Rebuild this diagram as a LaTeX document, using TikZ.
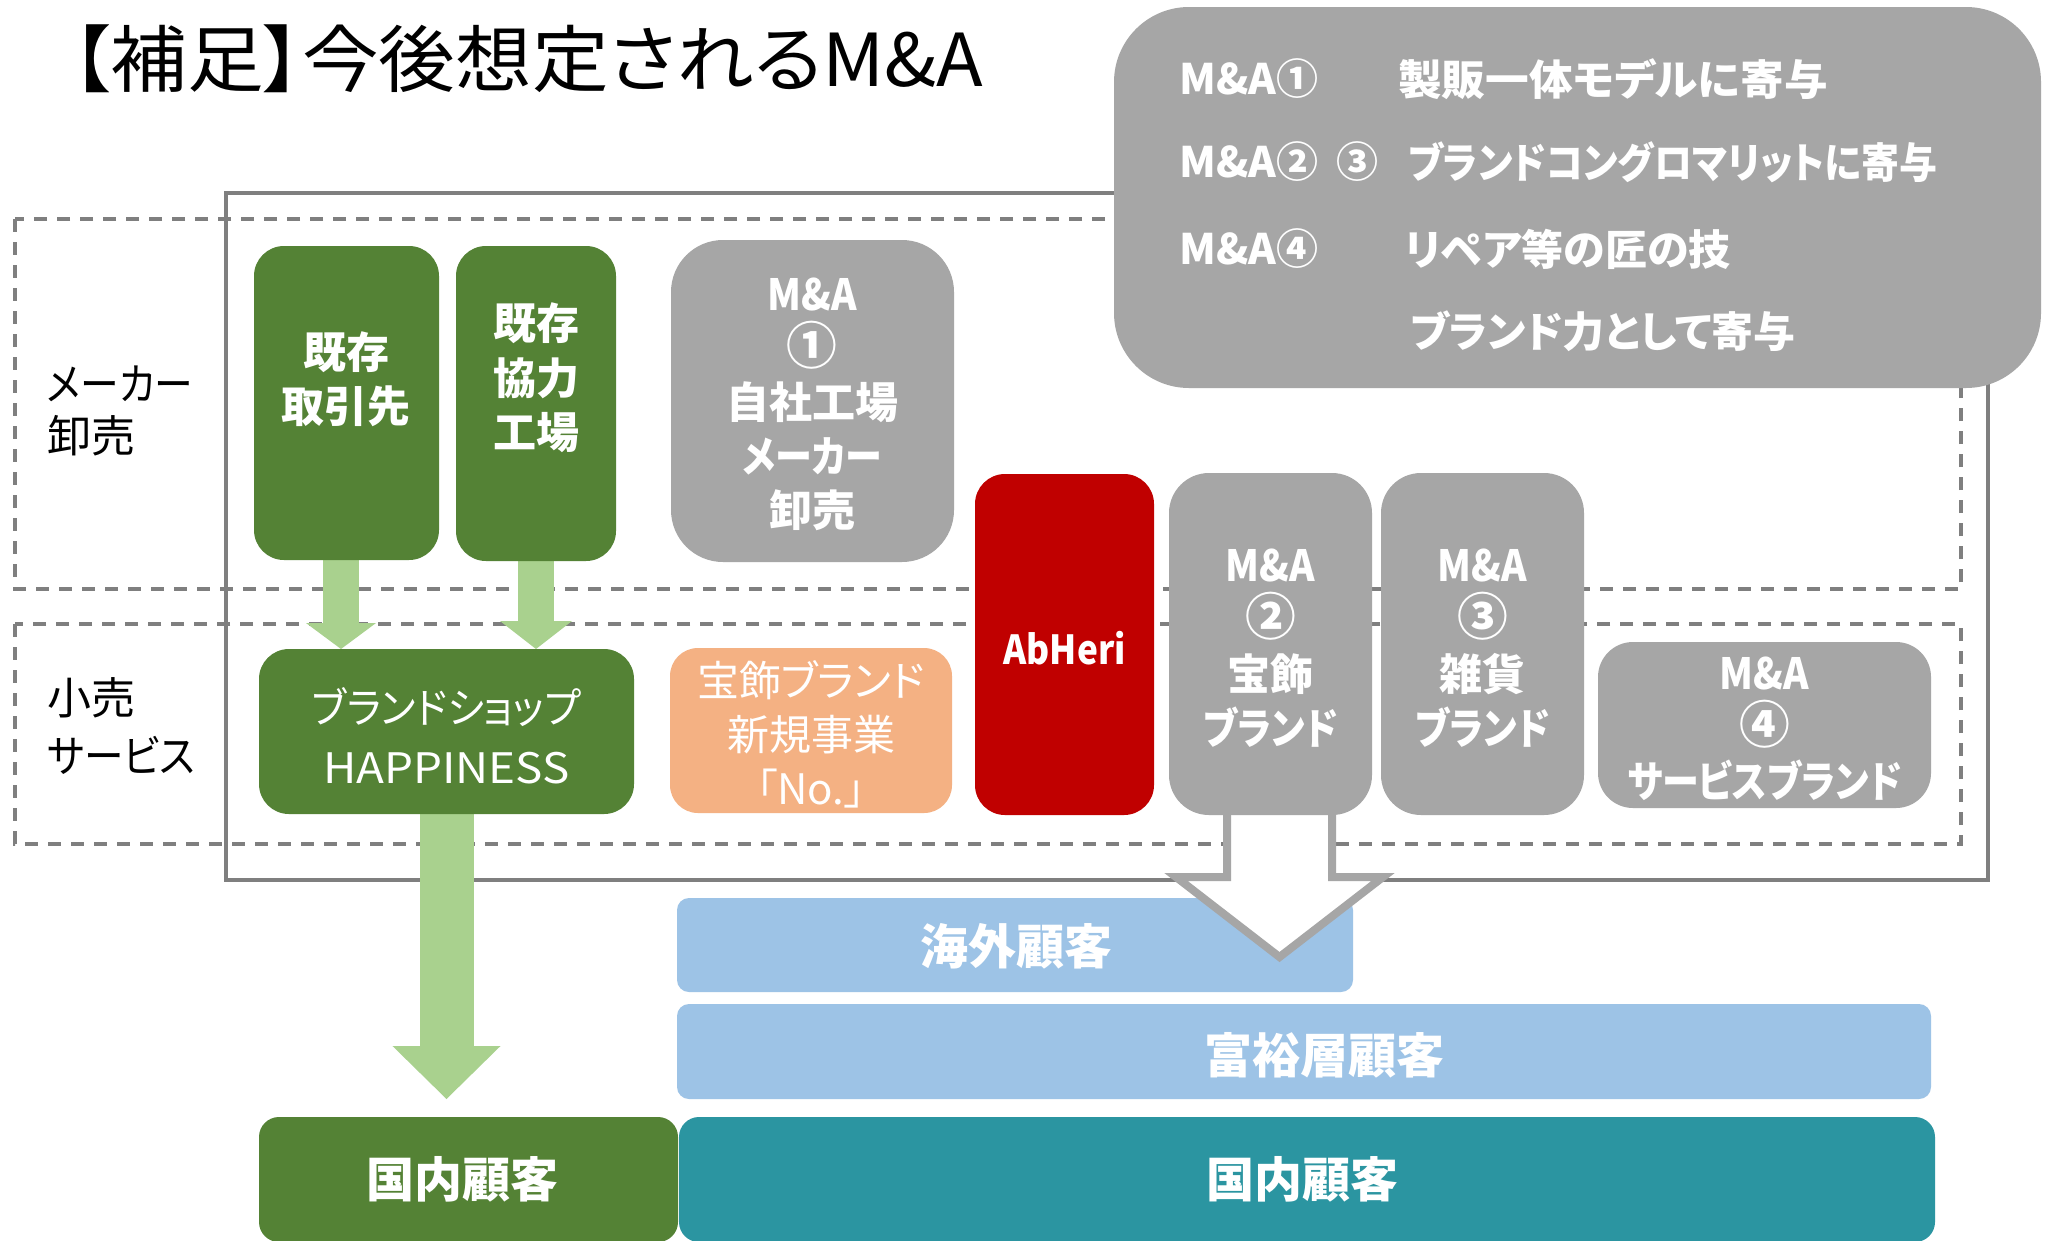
\documentclass[tikz,border=0pt]{standalone}
\usepackage{fontspec}
\setmainfont{Noto Sans CJK JP}[RawFeature=+palt]
\usetikzlibrary{calc,arrows.meta}
\definecolor{dgreen}{HTML}{548235}
\definecolor{lgreen}{HTML}{A9D18E}
\definecolor{mgray}{HTML}{A6A6A6}
\definecolor{lgray}{HTML}{7F7F7F}
\definecolor{orangeb}{HTML}{F4B183}
\definecolor{redb}{HTML}{C00000}
\definecolor{lblue}{HTML}{9DC3E6}
\definecolor{tealb}{HTML}{2B95A1}
\newcommand\hsq[2]{\scalebox{#1}[1]{#2}}
\newcommand\circn[1]{\scalebox{1.18}{#1}}
\begin{document}
\begin{tikzpicture}[x=1pt,y=-1pt,
  bx/.style={rectangle, rounded corners=#1, inner sep=0pt, outer sep=0pt},
  dashbox/.style={draw=lgray, line width=3.3pt, dash pattern=on 13pt off 10pt},
  frame/.style={draw=lgray, line width=3.5pt},
  wb/.style={text=white, font=\bfseries\fontsize{43}{54.5}\selectfont, align=center, inner sep=0pt},
  wr/.style={text=white, font=\fontsize{42}{54}\selectfont, align=center, inner sep=0pt},
  bigw/.style={text=white, font=\bfseries\fontsize{48}{54}\selectfont, inner sep=0pt},
  legt/.style={text=white, font=\bfseries\fontsize{42}{50}\selectfont, inner sep=0pt, anchor=west},
  side/.style={text=black, font=\fontsize{44}{52}\selectfont, align=left, inner sep=0pt, anchor=west},
  fatarrow/.style={draw=lgreen, line width=#1}
]
\useasboundingbox (0,0) rectangle (2058,1240);
\fill[white] (0,0) rectangle (2058,1240);

% frames
\draw[dashbox] (15,219) rectangle (1961,589);
\draw[dashbox] (15,624) rectangle (1961,844);
\draw[frame] (226,193) rectangle (1988,880);

% customer bars
\node[bx=12pt, fill=lblue, minimum width=676pt, minimum height=94pt] (kaigai) at (1015,945) {};
\node[bx=12pt, fill=lblue, minimum width=1254pt, minimum height=95pt] (fuyu) at (1304,1051.5) {};
\node[bx=20pt, fill=dgreen, minimum width=419pt, minimum height=125pt] (dom1) at (468.5,1179.5) {};
\node[bx=20pt, fill=tealb, minimum width=1256pt, minimum height=125pt] (dom2) at (1307,1179.5) {};

% boxes (placed first as anchors for arrows)
\node[bx=30pt, minimum width=185pt, minimum height=314pt] (b1) at (346.5,403) {};
\node[bx=30pt, minimum width=160pt, minimum height=315pt] (b2) at (536,403.5) {};
\node[bx=30pt, minimum width=375pt, minimum height=165pt] (happ) at (446.5,731.5) {};
\node[bx=40pt, minimum width=203pt, minimum height=342pt] (m2) at (1270.5,644) {};

% light green arrows
\coordinate (a1s) at ($(b1.south)+(-5.5,-5)$);
\coordinate (a2s) at ($(b2.south)+(0,-5)$);
\coordinate (a3s) at ($(happ.south)+(0,-5)$);
\draw[fatarrow=36pt, -{Triangle[length=26pt,width=70pt,line width=0pt]}] (a1s) -- (a1s |- happ.north);
\draw[fatarrow=36pt, -{Triangle[length=28pt,width=72pt,line width=0pt]}] (a2s) -- (a2s |- happ.north);
\draw[fatarrow=54pt, -{Triangle[length=53pt,width=108pt,line width=0pt]}] (a3s) -- ($(a3s |- dom1.north)+(0,-18)$);

% hollow arrow from M&A 2
\coordinate (ht) at ($(m2.south)+(9,142)$);
\draw[mgray, line width=8pt, fill=white, line join=miter, miter limit=10]
  ($(m2.south)+(-43.5,-5)$) -- ++(0,67) -- ++(-51,0) -- (ht) -- ++(103.5,-80) -- ++(-51,0) -- ++(0,-67);

% boxes
\fill[dgreen, rounded corners=30pt] (b1.south west) rectangle (b1.north east);
\fill[dgreen, rounded corners=30pt] (b2.south west) rectangle (b2.north east);
\node[bx=52pt, fill=mgray, minimum width=283pt, minimum height=322pt] (m1) at (812.5,401) {};
\fill[dgreen, rounded corners=30pt] (happ.south west) rectangle (happ.north east);
\node[bx=28pt, fill=orangeb, minimum width=282pt, minimum height=165pt] (nob) at (811,730.5) {};
\node[bx=30pt, fill=redb, minimum width=179pt, minimum height=341pt] (red) at (1064.5,644.5) {};
\fill[mgray, rounded corners=40pt] (m2.south west) rectangle (m2.north east);
\node[bx=40pt, fill=mgray, minimum width=203pt, minimum height=342pt] (m3) at (1482.5,644) {};
\node[bx=35pt, fill=mgray, minimum width=333pt, minimum height=166pt] (m4) at (1764.5,725) {};

% legend
\node[bx=75pt, fill=mgray, minimum width=927pt, minimum height=381pt] (leg) at (1577.5,197.5) {};

% title
\node[inner sep=0pt, anchor=west, font=\fontsize{73}{80}\selectfont] (title) at (72,59) {\hsq{1.05}{【補足】今後想定されるM\&A}};

% side labels
\node[side] (lab1) at (47,411) {\hsq{0.88}{メーカー}\\卸売};
\node[side, font=\fontsize{44}{58}\selectfont] (lab2) at (47,726) {小売\\\hsq{0.9}{サービス}};

% box texts
\node[wb] (tb1) at (346,379) {既存\\取引先};
\node[wb] (tb2) at (536,378) {既存\\協力\\工場};
\node[wb, font=\bfseries\fontsize{43}{54}\selectfont] (tm1) at (812,404) {\hsq{0.9}{M\&A}\\\circn{①}\\自社工場\\\hsq{0.86}{メーカー}\\卸売};
\node[wr, font=\fontsize{42}{60}\selectfont] (thapp) at (446.5,736) {\hsq{0.94}{ブランドショップ}\\\hsq{1.09}{HAPPINESS}};
\node[wr] (tnob) at (811,734) {宝飾ブランド\\新規事業\\「No.」};
\node[wb, font=\bfseries\fontsize{40}{50}\selectfont] (tred) at (1064.5,648) {\hsq{0.88}{AbHeri}};
\node[wb] (tm2) at (1270.5,648) {\hsq{0.9}{M\&A}\\\circn{②}\\宝飾\\\hsq{0.86}{ブランド}};
\node[wb] (tm3) at (1482.5,648) {\hsq{0.9}{M\&A}\\\circn{③}\\雑貨\\\hsq{0.86}{ブランド}};
\node[wb, font=\bfseries\fontsize{43}{54}\selectfont] (tm4) at (1764.5,729) {\hsq{0.9}{M\&A}\\\circn{④}\\\hsq{0.86}{サービスブランド}};

% bar texts
\node[bigw] (tkaigai) at (1016,946) {海外顧客};
\node[bigw] (tfuyu) at (1324,1055) {富裕層顧客};
\node[bigw] (tdom1) at (462,1179) {国内顧客};
\node[bigw] (tdom2) at (1302,1179) {国内顧客};

% legend texts
\node[legt] (l1a) at (1179,79) {M\&A①};
\node[legt] (l1b) at (1398,79) {\hsq{1.04}{製販一体モデルに寄与}};
\node[legt] (l2a) at (1179,162) {M\&A②\hspace{18pt}③};
\node[legt] (l2b) at (1408,162) {\hsq{0.905}{ブランドコングロマリットに寄与}};
\node[legt] (l3a) at (1179,249) {M\&A④};
\node[legt] (l3b) at (1405,249) {リペア等の匠の技};
\node[legt] (l4b) at (1410,331) {ブランド力として寄与};
\end{tikzpicture}
\end{document}
